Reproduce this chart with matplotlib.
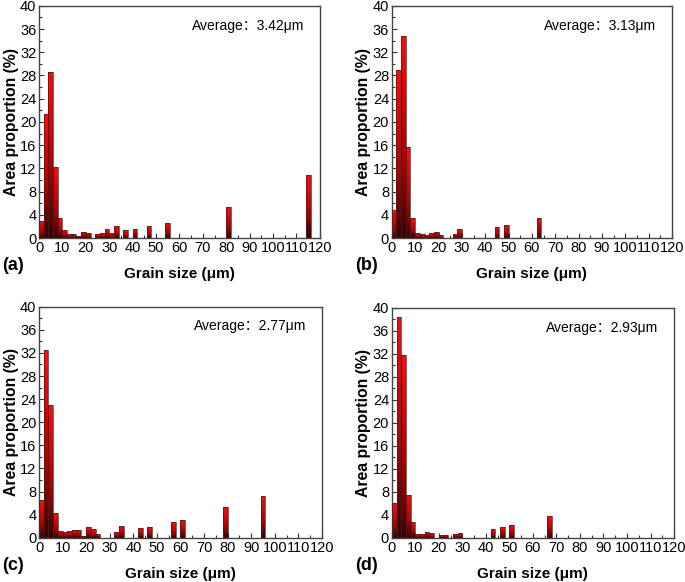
import numpy as np
import matplotlib
matplotlib.use("Agg")
import matplotlib.pyplot as plt
from matplotlib.colors import LinearSegmentedColormap
from matplotlib.ticker import MultipleLocator

plt.rcParams['font.family'] = ['Liberation Sans', 'DejaVu Sans']

# bin left edges (um) and area proportion (%) per sample, bin width 2 um
edges_a = [0, 2, 4, 6, 8, 10, 12, 14, 16, 18, 20, 24, 26, 28, 30, 32, 36, 40, 46, 54, 80, 114]
vals_a = [3.0, 21.3, 28.6, 12.2, 3.4, 1.4, 0.75, 0.75, 0.4, 1.1, 0.9, 0.75, 0.8, 1.55, 0.9, 2.0, 1.4, 1.6, 2.0, 2.6, 5.4, 10.9]

edges_b = [0, 2, 4, 6, 8, 10, 12, 14, 16, 18, 20, 26, 28, 44, 48, 62]
vals_b = [4.9, 28.9, 34.8, 15.6, 3.45, 0.85, 0.7, 0.45, 0.9, 1.1, 0.5, 0.7, 1.55, 1.85, 2.2, 3.45]

edges_c = [0, 2, 4, 6, 8, 10, 12, 14, 16, 18, 20, 22, 24, 32, 34, 42, 46, 56, 60, 78, 94]
vals_c = [6.5, 32.5, 22.9, 4.3, 1.2, 1.0, 1.2, 1.4, 1.3, 0.35, 1.9, 1.45, 0.6, 1.0, 2.05, 1.65, 1.95, 2.75, 3.15, 5.25, 7.3]

edges_d = [0, 2, 4, 6, 8, 10, 12, 14, 16, 20, 22, 26, 28, 42, 46, 50, 66]
vals_d = [6.1, 38.4, 31.8, 7.5, 2.8, 0.65, 0.6, 1.0, 0.75, 0.45, 0.45, 0.7, 0.8, 1.55, 1.95, 2.25, 3.75]

averages = ["3.42", "3.13", "2.77", "2.93"]
panel_tags = ["(a)", "(b)", "(c)", "(d)"]
bin_width = 2
n_slices = 30

# vertical gradient for each bar: dark at the base, bright red on top
red_grad = LinearSegmentedColormap.from_list(
    "redgrad", [(0.0, "#3c0000"), (0.4, "#b00000"), (1.0, "#ff0a0a")])
slice_cols = red_grad(np.linspace(0, 1, n_slices))

fig = plt.figure(figsize=(6.85, 5.82), dpi=100)

# axes boxes in figure fraction: left, bottom, width, height
boxes = [
    [0.057, 0.591, 0.410, 0.399],
    [0.572, 0.591, 0.409, 0.399],
    [0.057, 0.076, 0.413, 0.397],
    [0.572, 0.076, 0.412, 0.395],
]
data = [(edges_a, vals_a), (edges_b, vals_b), (edges_c, vals_c), (edges_d, vals_d)]

for box, (edges, vals), avg, tag in zip(boxes, data, averages, panel_tags):
    ax = fig.add_axes(box)
    edges = np.array(edges, dtype=float)
    vals = np.array(vals, dtype=float)
    # each slice runs from its own base up to the bar top, drawn bottom-up,
    # so later slices cover the upper part and no seams show
    for i in range(n_slices):
        base = vals * i / n_slices
        ax.bar(edges, vals - base, bottom=base, width=bin_width,
               align="edge", color=slice_cols[i], linewidth=0, zorder=2)
    ax.bar(edges, vals, width=bin_width, align="edge", fill=False,
           edgecolor="#2a2a2a", linewidth=0.5, zorder=3)

    ax.set_xlim(0, 120)
    ax.set_ylim(0, 40)
    ax.xaxis.set_major_locator(MultipleLocator(10))
    ax.xaxis.set_minor_locator(MultipleLocator(5))
    ax.yaxis.set_major_locator(MultipleLocator(4))
    ax.yaxis.set_minor_locator(MultipleLocator(2))
    ax.tick_params(which="both", direction="in", top=False, right=False,
                   colors="#333333", labelcolor="black", labelsize=10.5)
    ax.tick_params(which="major", length=3.5, width=0.8, pad=2)
    ax.tick_params(which="minor", length=2, width=0.8)
    for sp in ax.spines.values():
        sp.set_color("#444444")
        sp.set_linewidth(1.0)

    ax.set_ylabel("Area proportion (%)", fontsize=11.3, fontweight="bold", labelpad=1)
    ax.set_xlabel("Grain size (\u03bcm)", fontsize=11, fontweight="bold", labelpad=9)
    ax.text(0.945, 0.945, "Average\uff1a" + avg + "\u03bcm", transform=ax.transAxes,
            ha="right", va="top", fontsize=10,
            family=["Liberation Sans", "Noto Sans CJK SC"])
    ax.text(-0.13, -0.12, tag, transform=ax.transAxes, ha="left", va="center",
            fontsize=13, fontweight="bold")

fig.savefig("out.png", dpi=100)
